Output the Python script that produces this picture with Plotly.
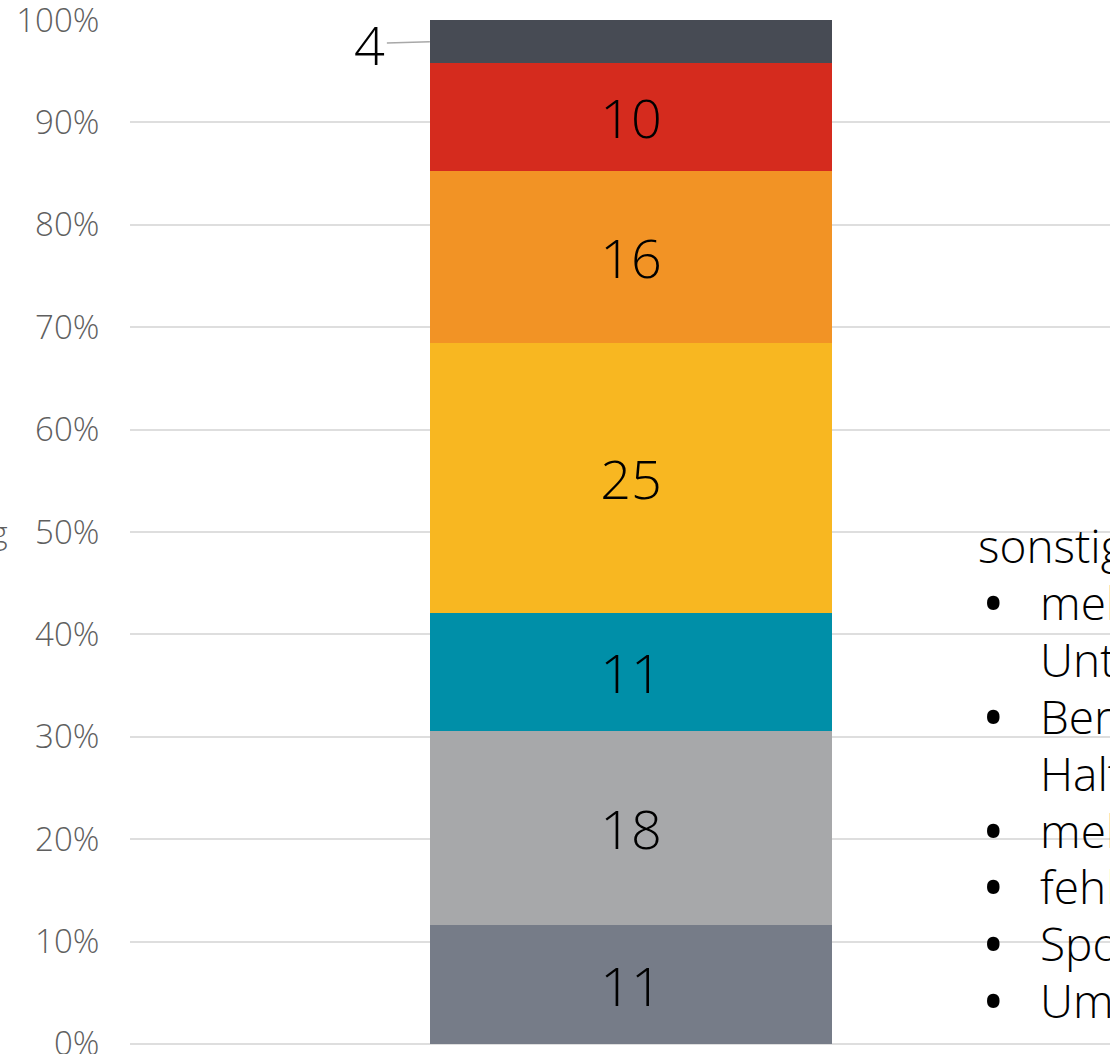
import plotly.graph_objects as go

# ---- data ----
categories = ["Gesamt"]
series_names = ["A", "B", "C", "D", "E", "F", "G"]
series_values = [11, 18, 11, 25, 16, 10, 4]
series_colors = ["#767C88", "#A7A8AA", "#008FA8", "#F8B721", "#F29325", "#D52B1E", "#474B54"]
tick_values = [0, 10, 20, 30, 40, 50, 60, 70, 80, 90, 100]
tick_labels = [f"{v}%" for v in tick_values]
side_title = "sonstige Gründe:"
side_items = ["mehrere", "Unterbrechungen", "Beruf und", "Haltung", "mehrere Jobs",
              "fehlende Zeit", "Sport", "Umzug"]
side_bullets = [True, False, True, False, True, True, True, True]

W, H = 1110, 1054
L, R, T, B = 130, 0, 20, 10
PW, PH = W - L - R, H - T - B
FONT = "Open Sans"

def px_x(x):
    return (x - L) / PW

def px_y(y):
    return (H - B - y) / PH

fig = go.Figure()
n = len(series_values)
for i, (name, val, col) in enumerate(zip(series_names, series_values, series_colors)):
    fig.add_trace(go.Bar(
        x=[0], y=[val], name=name, marker=dict(color=col, line=dict(width=0)),
        width=1.0,
        text=[str(val)] if i < n - 1 else [""],
        textposition="inside", insidetextanchor="middle",
        textfont=dict(family=FONT, size=54, color="#000000", weight=300),
        showlegend=False, hoverinfo="skip",
    ))

total = sum(series_values)
top_center = (sum(series_values[:-1]) + series_values[-1] / 2) / total * 100

annotations = [
    dict(x=-0.5, y=top_center, xref="x", yref="y", text=str(series_values[-1]),
         showarrow=True, arrowhead=0, arrowwidth=1.5, arrowcolor="#a8a8a8",
         ax=-60, ay=2, standoff=0,
         font=dict(family=FONT, size=54, color="#000000", weight=300)),
    dict(x=px_x(10), y=px_y(531), xref="paper", yref="paper", text="Verteilung",
         showarrow=False, xanchor="right", yanchor="middle",
         font=dict(family=FONT, size=32, color="#5f5f5f", weight=300)),
    dict(x=px_x(976), y=px_y(545), xref="paper", yref="paper", text=side_title,
         showarrow=False, xanchor="left", yanchor="middle",
         font=dict(family=FONT, size=46, color="#000000", weight=300)),
]
for i, (item, bul) in enumerate(zip(side_items, side_bullets)):
    yc = 545 + 56.9 * (i + 1)
    if bul:
        annotations.append(dict(x=px_x(980), y=px_y(yc), xref="paper", yref="paper", text="•",
                                showarrow=False, xanchor="left", yanchor="middle",
                                font=dict(family=FONT, size=60, color="#000000")))
    annotations.append(dict(x=px_x(1038), y=px_y(yc), xref="paper", yref="paper", text=item,
                            showarrow=False, xanchor="left", yanchor="middle",
                            font=dict(family=FONT, size=46, color="#000000", weight=300)))

fig.update_layout(
    width=W, height=H,
    margin=dict(l=L, r=R, t=T, b=B, autoexpand=False),
    barmode="stack", barnorm="percent", bargap=0,
    plot_bgcolor="white", paper_bgcolor="white",
    xaxis=dict(range=[-1.246, 1.192], showticklabels=False, showgrid=False,
               zeroline=False, showline=False, fixedrange=True),
    yaxis=dict(range=[-0.01, 100.01], tickvals=tick_values, ticktext=tick_labels,
               showgrid=True, gridcolor="#dedede", gridwidth=2,
               zeroline=True, zerolinecolor="#dedede", zerolinewidth=2,
               showline=False, ticks="outside", ticklen=23, tickcolor="rgba(0,0,0,0)",
               ticklabeloverflow="allow",
               tickfont=dict(family=FONT, size=33, color="#5f5f5f", weight=300)),
    annotations=annotations,
    uniformtext=dict(mode=False),
)

fig.write_html("out.html", config={"displayModeBar": False},
               post_script="document.body.style.margin='0';document.body.style.overflow='hidden';")
